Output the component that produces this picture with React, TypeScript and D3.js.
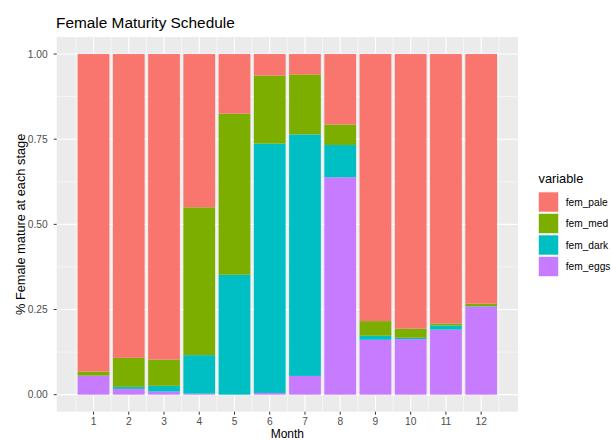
import React from "react";
import * as d3 from "d3";

const months = [1, 2, 3, 4, 5, 6, 7, 8, 9, 10, 11, 12];
const femEggs = [0.056, 0.017, 0.009, 0.003, 0.0, 0.005, 0.055, 0.638, 0.161, 0.163, 0.191, 0.259];
const femDark = [0.0, 0.006, 0.017, 0.113, 0.352, 0.732, 0.709, 0.095, 0.012, 0.004, 0.012, 0.001];
const femMed = [0.012, 0.085, 0.077, 0.434, 0.473, 0.2, 0.176, 0.06, 0.043, 0.027, 0.006, 0.007];
const femPale = [0.932, 0.892, 0.897, 0.45, 0.175, 0.063, 0.06, 0.207, 0.784, 0.806, 0.791, 0.733];

const seriesKeys = ["fem_eggs", "fem_dark", "fem_med", "fem_pale"];
const legendKeys = ["fem_pale", "fem_med", "fem_dark", "fem_eggs"];
const yTicks = [0, 0.25, 0.5, 0.75, 1];

const colors: Record<string, string> = {
  fem_pale: "#F8766D",
  fem_med: "#7CAE00",
  fem_dark: "#00BFC4",
  fem_eggs: "#C77CFF",
};

const FONT = "'Liberation Sans', Arial, sans-serif";

export default function App() {
  const width = 611;
  const height = 441;
  const panel = { left: 56.7, right: 518, top: 37, bottom: 411.7 };

  const rows = months.map((m, i) => ({
    month: m,
    fem_eggs: femEggs[i],
    fem_dark: femDark[i],
    fem_med: femMed[i],
    fem_pale: femPale[i],
  }));

  // continuous month axis, bars 0.9 wide, 5% expansion like ggplot
  const x = d3.scaleLinear().domain([-0.045, 13.045]).range([panel.left, panel.right]);
  const y = d3.scaleLinear().domain([-0.05, 1.05]).range([panel.bottom, panel.top]);

  const stacked = d3.stack<any>().keys(seriesKeys)(rows);
  const barW = x(0.9) - x(0);

  const xMinor = d3.range(0.5, 13, 1);
  const yMinor = [0.125, 0.375, 0.625, 0.875];

  return (
    <svg width={width} height={height} style={{ position: "absolute", left: 0, top: 0, background: "#fff" }}>
      <text x={56} y={27.7} fontFamily={FONT} fontSize={15.4} fill="#000">
        Female Maturity Schedule
      </text>

      <rect x={panel.left} y={panel.top} width={panel.right - panel.left} height={panel.bottom - panel.top} fill="#EBEBEB" />
      {yMinor.map((v) => (
        <line key={"ym" + v} x1={panel.left} x2={panel.right} y1={y(v)} y2={y(v)} stroke="#fff" strokeWidth={0.55} />
      ))}
      {xMinor.map((v) => (
        <line key={"xm" + v} x1={x(v)} x2={x(v)} y1={panel.top} y2={panel.bottom} stroke="#fff" strokeWidth={0.55} />
      ))}
      {yTicks.map((v) => (
        <line key={"y" + v} x1={panel.left} x2={panel.right} y1={y(v)} y2={y(v)} stroke="#fff" strokeWidth={1.1} />
      ))}
      {months.map((m) => (
        <line key={"x" + m} x1={x(m)} x2={x(m)} y1={panel.top} y2={panel.bottom} stroke="#fff" strokeWidth={1.1} />
      ))}

      {stacked.map((s) => (
        <g key={s.key} fill={colors[s.key]}>
          {s.map((d, i) => (
            <rect
              key={i}
              x={x(d.data.month) - barW / 2}
              width={barW}
              y={y(d[1])}
              height={Math.max(0, y(d[0]) - y(d[1]))}
            />
          ))}
        </g>
      ))}

      {/* y axis */}
      {yTicks.map((v) => (
        <g key={"yt" + v}>
          <line x1={panel.left - 3} x2={panel.left} y1={y(v)} y2={y(v)} stroke="#333" strokeWidth={1} />
          <text x={panel.left - 9} y={y(v)} dy="0.35em" textAnchor="end" fontFamily={FONT} fontSize={10.2} fill="#4D4D4D">
            {d3.format(".2f")(v)}
          </text>
        </g>
      ))}
      {/* x axis */}
      {months.map((m) => (
        <g key={"xt" + m}>
          <line x1={x(m)} x2={x(m)} y1={panel.bottom} y2={panel.bottom + 3} stroke="#333" strokeWidth={1} />
          <text x={x(m)} y={425.2} textAnchor="middle" fontFamily={FONT} fontSize={10.2} fill="#4D4D4D">
            {m}
          </text>
        </g>
      ))}

      <text x={(panel.left + panel.right) / 2} y={438.3} textAnchor="middle" fontFamily={FONT} fontSize={12} fill="#000">
        Month
      </text>
      <text
        transform={`translate(25,${(panel.top + panel.bottom) / 2}) rotate(-90)`}
        textAnchor="middle"
        fontFamily={FONT}
        fontSize={12.8}
        fill="#000"
      >
        % Female mature at each stage
      </text>

      {/* legend */}
      <text x={538.5} y={183.3} fontFamily={FONT} fontSize={12.8} fill="#000">
        variable
      </text>
      {legendKeys.map((k, i) => (
        <g key={k} transform={`translate(538,${191.5 + i * 21.5})`}>
          <rect x={0} y={0} width={21} height={21} fill="#F2F2F2" />
          <rect x={0.5} y={0.5} width={20} height={20} fill={colors[k]} stroke="#fff" strokeWidth={0.6} />
          <text x={27.7} y={10.5} dy="0.35em" fontFamily={FONT} fontSize={10.2} fill="#000">
            {k}
          </text>
        </g>
      ))}
    </svg>
  );
}
